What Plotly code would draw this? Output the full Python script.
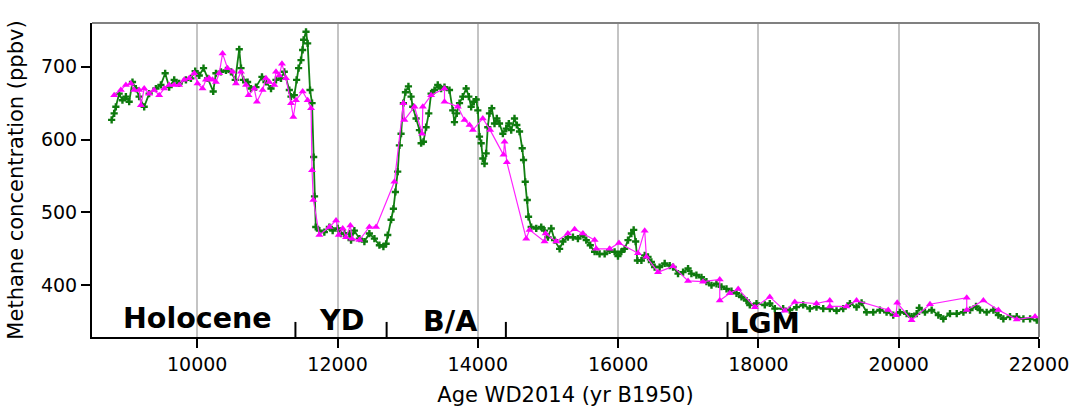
import plotly.graph_objects as go

# WAIS Divide (high resolution) methane record - green
green_age = [8780, 8816, 8840, 8887, 8934, 8983, 9030, 9077, 9125, 9172, 9244, 9315, 9411, 9482, 9543,
             9600, 9672, 9743, 9839, 9910, 9971, 10029, 10090, 10147, 10228, 10267, 10338, 10410, 10481,
             10542, 10599, 10624, 10656, 10718, 10766, 10837, 10923, 10980, 11052, 11123, 11194, 11241,
             11313, 11337, 11384, 11417, 11445, 11480, 11503, 11517, 11551, 11574, 11608, 11637, 11660,
             11672, 11690, 11741, 11812, 11884, 11931, 12002, 12050, 12098, 12169, 12193, 12240, 12312,
             12383, 12454, 12526, 12597, 12654, 12693, 12716, 12764, 12797, 12825, 12858, 12882, 12906,
             12939, 12968, 13011, 13049, 13072, 13120, 13168, 13192, 13225, 13263, 13301, 13334, 13382,
             13429, 13477, 13525, 13596, 13643, 13667, 13700, 13739, 13786, 13834, 13872, 13905, 13943,
             13977, 14000, 14024, 14048, 14071, 14095, 14119, 14142, 14166, 14199, 14238, 14271, 14309,
             14357, 14405, 14442, 14476, 14523, 14556, 14595, 14633, 14652, 14676, 14705, 14723, 14761,
             14833, 14904, 14951, 14999, 15047, 15094, 15166, 15213, 15284, 15356, 15427, 15498, 15546,
             15603, 15665, 15736, 15808, 15879, 15950, 15998, 16046, 16093, 16141, 16189, 16222, 16250,
             16275, 16332, 16379, 16426, 16474, 16521, 16592, 16664, 16735, 16783, 16854, 16926, 16997,
             17045, 17116, 17188, 17259, 17331, 17402, 17473, 17545, 17616, 17688, 17759, 17830, 17877,
             17973, 18091, 18162, 18234, 18353, 18447, 18543, 18638, 18733, 18828, 18924, 19018, 19114,
             19209, 19304, 19399, 19471, 19542, 19637, 19732, 19827, 19922, 20018, 20113, 20184, 20256,
             20293, 20374, 20470, 20565, 20636, 20731, 20827, 20922, 21017, 21102, 21159, 21254, 21350,
             21421, 21492, 21587, 21683, 21778, 21873, 21968, 22000]
green_ch4 = [627, 636, 645, 663, 654, 659, 652, 679, 670, 659, 645, 663, 670, 675, 691,
             672, 682, 677, 682, 684, 694, 688, 698, 684, 666, 691, 693, 695, 693,
             682, 724, 698, 682, 679, 670, 672, 686, 679, 670, 682, 684, 693,
             668, 659, 661, 682, 698, 709, 723, 737, 748, 732, 668, 650, 576,
             522, 480, 475, 473, 480, 475, 478, 471, 471, 471, 462, 475, 464,
             460, 471, 464, 455, 453, 457, 469, 490, 505, 528, 556, 592, 608,
             650, 665, 673, 659, 645, 629, 613, 595, 597, 617, 636, 663, 668,
             675, 670, 672, 668, 640, 624, 636, 650, 659, 670, 659, 645, 652,
             655, 640, 604, 595, 574, 567, 581, 617, 636, 643, 622, 629, 622,
             608, 615, 622, 613, 629, 620, 611, 588, 572, 542, 517, 494, 480,
             478, 480, 475, 466, 478, 462, 450, 460, 466, 466, 464, 469, 462,
             455, 446, 443, 443, 448, 446, 440, 446, 450, 462, 471, 476, 460,
             434, 434, 441, 439, 432, 425, 425, 430, 427, 425, 416, 418, 423,
             416, 414, 411, 405, 400, 402, 398, 395, 392, 389, 384, 379, 373,
             375, 373, 375, 368, 368, 366, 370, 373, 368, 370, 368, 368, 365,
             368, 375, 370, 376, 363, 363, 366, 363, 359, 363, 361, 357, 361,
             369, 363, 366, 359, 354, 361, 361, 363, 366, 371, 366, 363, 366,
             359, 354, 357, 357, 354, 354, 352, 352]

# Lower-resolution record - magenta
mag_age = [8816, 8911, 8983, 9054, 9101, 9172, 9197, 9244, 9315, 9386, 9458, 9529, 9600, 9672, 9743,
           9815, 9886, 9957, 10004, 10076, 10124, 10171, 10218, 10267, 10314, 10361, 10432, 10504,
           10552, 10624, 10695, 10732, 10813, 10851, 10932, 10980, 11027, 11099, 11123, 11170, 11208,
           11265, 11337, 11370, 11408, 11503, 11574, 11623, 11637, 11655, 11741, 11884, 11979, 12017,
           12074, 12121, 12183, 12207, 12312, 12454, 12550, 12811, 12939, 12954, 13097, 13206, 13216,
           13334, 13525, 13525, 13715, 13810, 13882, 13929, 14071, 14176, 14366, 14381, 14414, 14690,
           14737, 14951, 14966, 15118, 15284, 15380, 15498, 15665, 15689, 15879, 16012, 16283, 16379,
           16403, 16569, 16783, 16997, 17211, 17449, 17449, 17592, 17712, 17950, 18162, 18377, 18519,
           18828, 19018, 19018, 19256, 19399, 19851, 19961, 19979, 20184, 20446, 20970, 20970, 21207,
           21421, 21683, 21944]
mag_ch4 = [661, 668, 675, 677, 668, 668, 647, 670, 663, 668, 661, 670, 675, 675, 675,
           682, 684, 691, 677, 670, 682, 684, 682, 679, 691, 718, 698, 693,
           677, 693, 675, 661, 670, 652, 668, 684, 679, 675, 693, 688, 704,
           684, 650, 631, 654, 666, 654, 643, 558, 517, 469, 480, 489, 469,
           478, 466, 482, 464, 462, 480, 480, 542, 650, 627, 645, 608, 645,
           661, 670, 652, 645, 627, 620, 613, 629, 613, 579, 597, 569, 464,
           476, 460, 471, 460, 471, 477, 471, 462, 450, 450, 458, 444, 475,
           439, 418, 426, 406, 405, 408, 379, 389, 395, 370, 384, 365, 377,
           375, 379, 371, 371, 379, 366, 359, 376, 352, 374, 383, 366, 379,
           366, 353, 357]

x_ticks = [10000, 12000, 14000, 16000, 18000, 20000, 22000]
y_ticks = [400, 500, 600, 700]
period_names = ["Holocene", "YD", "B/A", "LGM"]
period_centers = [10010, 12050, 13610, 18090]
period_bounds = [11400, 12700, 14400, 17560]

fig = go.Figure()
fig.add_trace(go.Scatter(
    x=green_age, y=green_ch4, mode="lines+markers",
    line=dict(color="#128012", width=1.8),
    marker=dict(symbol="cross", size=6, color="#0e7a0e"),
    showlegend=False))
fig.add_trace(go.Scatter(
    x=mag_age, y=mag_ch4, mode="lines+markers",
    line=dict(color="#ff22ff", width=1.2),
    marker=dict(symbol="triangle-up", size=7, color="#ff00ff"),
    showlegend=False))

shapes = []
# top and right frame (gray)
shapes.append(dict(type="line", xref="paper", yref="paper", x0=0, x1=1, y0=1, y1=1,
                   line=dict(color="#808080", width=2)))
shapes.append(dict(type="line", xref="paper", yref="paper", x0=1, x1=1, y0=0, y1=1,
                   line=dict(color="#808080", width=2)))
for b in period_bounds:
    shapes.append(dict(type="line", xref="x", yref="paper", x0=b, x1=b, y0=0, y1=0.048,
                       line=dict(color="black", width=2)))

annotations = []
yshifts = [0, -2, -2.5, -4.5]
for name, c, ys in zip(period_names, period_centers, yshifts):
    annotations.append(dict(x=c, y=0, xref="x", yref="paper", text="<b>%s</b>" % name,
                            showarrow=False, xanchor="center", yanchor="bottom", yshift=ys,
                            font=dict(size=28.5, color="black", family="DejaVu Sans")))

fig.update_layout(
    width=1075, height=407,
    margin=dict(l=92, r=36, t=23, b=70, autoexpand=False),
    paper_bgcolor="white", plot_bgcolor="white",
    font=dict(family="DejaVu Sans", color="black"),
    shapes=shapes, annotations=annotations,
    xaxis=dict(range=[8500, 22000], tickvals=x_ticks, ticktext=[str(v) for v in x_ticks],
               automargin=False,
               showgrid=True, gridcolor="#c4c4c4", gridwidth=2, zeroline=False,
               showline=True, linecolor="black", linewidth=2,
               ticks="outside", ticklen=9, tickwidth=1.5, tickcolor="black",
               tickfont=dict(size=19),
               title=dict(text="Age WD2014 (yr B1950)", font=dict(size=21), standoff=22)),
    yaxis=dict(range=[329, 760], tickvals=y_ticks, ticktext=[str(v) for v in y_ticks],
               automargin=False,
               showgrid=False, zeroline=False,
               showline=True, linecolor="black", linewidth=2,
               ticks="outside", ticklen=9, tickwidth=1.5, tickcolor="black",
               tickfont=dict(size=19),
               title=dict(text="Methane concentration (ppbv)", font=dict(size=21), standoff=12)),
)

fig.write_html("out.html")
